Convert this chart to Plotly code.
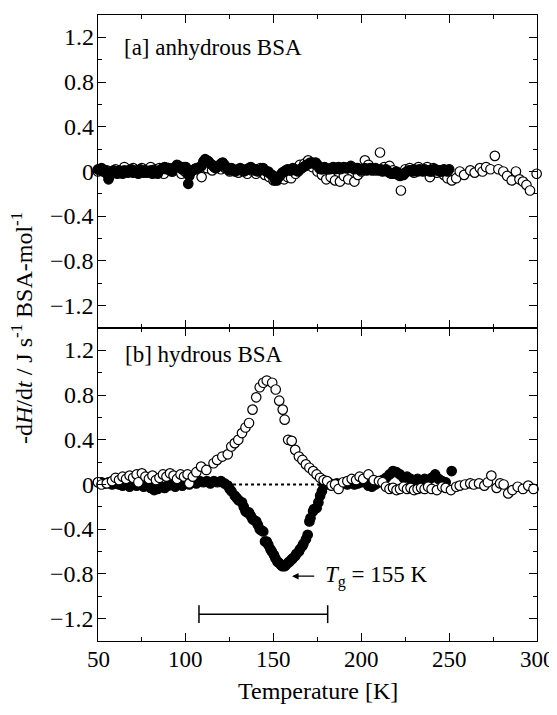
import plotly.graph_objects as go
from plotly.subplots import make_subplots

# ---------------- data ----------------
# [a] anhydrous BSA: open circles
anhydrous_open = [(50,0.0),(52.5,0.02),(55,0.01),(57.5,-0.01),(60,0.02),(62.5,0.0),(65,0.04),(67.5,0.01),(70,0.03),(72.5,-0.01),(75,0.03),(77.5,0.01),(80,0.04),(82.5,0.02),(85,0.03),(87.5,-0.02),(90,0.03),(92.5,0.0),(95,0.02),(97.5,-0.02),(99.5,0.0),(102.5,-0.01),(105,0.02),(109,-0.05),(112,0.03),(115,0.01),(117.5,0.04),(120,0.02),(122.5,0.03),(125,0.0),(127.5,0.01),(130,-0.01),(132.5,0.02),(135,-0.02),(137.5,0.01),(140,-0.02),(142.5,0.03),(145,-0.03),(147.5,-0.05),(150,-0.08),(152,-0.08),(154,-0.06),(156,-0.07),(158,-0.05),(160,-0.06),(162.5,-0.02),(165,0.06),(167.5,0.07),(169.7,0.10),(172,0.04),(175,0.0),(177.5,-0.03),(180,-0.07),(182.5,-0.05),(185,-0.08),(187.8,-0.09),(190,-0.04),(192.5,-0.07),(196,-0.09),(198,-0.03),(200,0.0),(202,0.10),(204,0.06),(206,0.03),(208,0.01),(210.6,0.17),(213,0.04),(216,0.05),(218,0.01),(220,-0.01),(222.5,-0.17),(225,0.02),(227.5,0.03),(230,-0.01),(232.5,0.04),(235,0.02),(237.5,0.04),(239,-0.05),(241,0.03),(243,-0.01),(245,0.01),(247,-0.03),(249,-0.06),(251.5,-0.08),(254,-0.06),(256,0.0),(258.5,-0.03),(262,0.01),(264.5,-0.01),(267.5,0.03),(269,0.0),(271,0.04),(273.5,0.02),(276,0.14),(278,0.02),(280.8,0.0),(283,-0.04),(285.6,-0.08),(288,0.0),(290,-0.07),(292,-0.09),(294,-0.12),(296,-0.17),(299.8,-0.02)]

# [a] anhydrous BSA: filled circles
anhydrous_filled = [(50,0.02),(51,0.01),(52,0.03),(53,0.0),(54,0.01),(55,-0.02),(56,-0.07),(57,-0.03),(58,-0.01),(59,0.01),(60,0.0),(61,-0.02),(62,0.01),(63,0.0),(64,-0.02),(65,0.01),(66,0.0),(67,-0.01),(68,0.01),(69,0.02),(70,-0.01),(71,0.0),(72,0.01),(73,-0.02),(74,0.02),(75,0.0),(76,-0.01),(77,0.01),(78,-0.01),(79,0.0),(80,0.01),(81,-0.02),(82,0.01),(83,0.0),(84,-0.02),(85,0.01),(86,0.02),(87,0.03),(88,0.04),(89,0.02),(90,0.03),(91,0.01),(92,0.0),(93,0.03),(94,0.04),(95,0.06),(96,0.05),(97,0.03),(98,0.02),(99,0.04),(100,0.04),(101,-0.02),(101.4,-0.11),(102,-0.04),(103,0.0),(104,0.01),(105,0.02),(106,0.03),(107,0.03),(108,0.04),(109,0.05),(110,0.09),(111,0.11),(112,0.10),(113,0.09),(114,0.07),(115,0.06),(116,0.04),(117,0.03),(118,0.04),(119,0.05),(120,0.07),(121,0.08),(122,0.06),(123,0.04),(124,0.02),(125,0.01),(126,0.03),(127,0.02),(128,0.0),(129,0.01),(130,0.02),(131,0.03),(132,0.01),(133,0.0),(134,0.01),(135,0.02),(136,0.03),(137,0.04),(138,0.02),(139,0.01),(140,0.02),(141,0.0),(142,0.01),(143,0.02),(144,0.03),(145,0.01),(146,0.0),(147,0.0),(148,-0.02),(149,-0.03),(150,-0.05),(151,-0.08),(152,-0.07),(153,-0.05),(154,-0.03),(155,-0.01),(156,0.0),(157,0.01),(158,0.02),(159,0.01),(160,0.01),(161,0.03),(162,0.02),(163,0.01),(164,0.0),(165,0.02),(166,0.03),(167,0.04),(168,0.05),(169,0.06),(170,0.07),(171,0.08),(172,0.08),(173,0.07),(174,0.08),(175,0.06),(176,0.03),(177,0.02),(178,0.02),(179,0.04),(180,0.03),(181,0.02),(182,0.02),(183,0.03),(184,0.04),(185,0.02),(186,0.03),(187,0.04),(188,0.02),(189,0.03),(190,0.04),(191,0.03),(192,0.03),(193,0.04),(194,0.05),(195,0.03),(196,0.02),(197,0.03),(198,0.03),(199,0.02),(200,0.01),(201,0.02),(202,0.03),(203,0.01),(204,0.02),(205,0.03),(206,0.01),(207,0.02),(208,0.03),(209,0.02),(210,0.01),(211,0.02),(212,0.0),(213,0.01),(214,0.02),(215,0.0),(216,-0.01),(217,-0.02),(218,-0.02),(219,-0.01),(220,0.0),(221,-0.03),(222,-0.04),(223,-0.03),(224,-0.03),(225,-0.01),(226,0.0),(227,0.01),(228,0.01),(229,0.0),(230,0.02),(231,0.01),(232,0.0),(233,0.02),(234,0.01),(235,0.0),(236,0.02),(237,0.01),(238,0.01),(239,0.0),(240,0.0),(241,0.02),(242,0.02),(243,0.01),(244,0.01),(245,0.0),(246,0.0),(247,0.02),(248,0.01),(249,0.0),(250,0.02)]

# [b] hydrous BSA: open circles
hydrous_open = [(50,0.02),(52,0.0),(55,0.01),(58,0.03),(60,0.06),(62,0.04),(64,0.07),(66,0.05),(68,0.08),(70,0.06),(72,0.09),(73,0.02),(75,0.10),(77,0.07),(79,0.05),(81,0.08),(83,0.04),(85,0.06),(87,0.09),(89,0.07),(91,0.10),(93,0.08),(95,0.05),(97,0.09),(99,0.07),(101,0.09),(102,0.01),(104,0.07),(106,0.11),(108.7,0.16),(111.7,0.13),(115.8,0.19),(117.8,0.22),(120.8,0.25),(123.9,0.27),(125.9,0.34),(127.9,0.37),(129.9,0.40),(132.0,0.46),(134.0,0.51),(136.0,0.55),(138.0,0.67),(140.1,0.78),(142.1,0.87),(144.1,0.91),(146.1,0.93),(149.2,0.91),(151.2,0.85),(153.2,0.75),(155.2,0.67),(156.3,0.58),(158.3,0.40),(160.3,0.39),(162.3,0.31),(164.4,0.25),(166.4,0.22),(168.4,0.18),(170.4,0.15),(172.5,0.12),(174.5,0.09),(176.5,0.06),(178.5,0.04),(180.5,0.03),(183,-0.01),(185,0.0),(187,-0.04),(189.6,0.02),(192,0.03),(194.5,0.05),(197,0.04),(199,0.07),(201,0.05),(204,0.09),(207,0.04),(210,0.03),(212,0.02),(214,-0.02),(216,-0.04),(218,-0.03),(220,-0.05),(222,-0.04),(224,-0.02),(226,-0.04),(228,-0.03),(230,-0.05),(232,-0.04),(234,-0.03),(236,-0.04),(238,-0.02),(240,-0.04),(243,-0.05),(246,-0.02),(248,-0.03),(251,-0.05),(254,-0.02),(256,-0.01),(259,0.0),(262,0.01),(264,0.0),(267,0.01),(270,-0.01),(272,0.02),(274,0.08),(277,-0.03),(279,0.01),(281,0.0),(283.6,-0.08),(286,-0.05),(289,-0.02),(292,-0.04),(295,-0.01),(298,-0.04)]

# [b] hydrous BSA: filled circles
hydrous_filled = [(50,0.02),(52,0.02),(54,0.01),(56,0.02),(58,0.0),(60,0.01),(62,0.0),(64,-0.01),(66,0.0),(68,-0.02),(70,0.0),(72,-0.01),(74,0.0),(76,-0.02),(78,-0.01),(80,-0.03),(82,-0.05),(84,-0.04),(86,-0.02),(88,-0.03),(90,-0.01),(92,0.0),(94,-0.02),(96,0.0),(98,-0.01),(100,0.01),(102,0.0),(104,0.02),(106,0.01),(108,0.03),(110,0.02),(112,0.03),(114,0.01),(116,0.03),(118,0.02),(120,0.03),(122,0.01),(123.9,-0.01),(125,-0.04),(126,-0.06),(127.9,-0.10),(129,-0.12),(130,-0.14),(132,-0.16),(133,-0.20),(134,-0.24),(135,-0.25),(136,-0.25),(137,-0.28),(138,-0.31),(139,-0.32),(140.1,-0.33),(141,-0.36),(142.1,-0.40),(143,-0.41),(144.1,-0.42),(145.1,-0.51),(146.1,-0.51),(147,-0.54),(148.2,-0.58),(149,-0.60),(150.2,-0.63),(151,-0.66),(152.2,-0.69),(153,-0.70),(154.2,-0.72),(155,-0.73),(156.3,-0.73),(157,-0.72),(158.3,-0.70),(159,-0.69),(160.3,-0.67),(161,-0.66),(162.3,-0.64),(163,-0.62),(164.4,-0.60),(165,-0.58),(166.4,-0.55),(167,-0.53),(168.4,-0.49),(169.4,-0.45),(170.4,-0.33),(171,-0.30),(172.5,-0.24),(173,-0.22),(174.5,-0.21),(175.5,-0.16),(176.5,-0.10),(177.5,-0.06),(178.5,-0.01),(180,0.0),(182,0.01),(184,0.0),(186,0.01),(188,0.0),(190,0.01),(192,0.0),(194,0.02),(196,0.0),(198,0.01),(200,0.02),(202,0.02),(204,-0.01),(206,-0.02),(208,0.0),(210,0.02),(212,0.04),(214,0.06),(216,0.09),(218,0.12),(220,0.11),(222,0.09),(224,0.06),(226,0.07),(228,0.05),(230,0.04),(232,0.05),(234,0.03),(236,0.05),(238,0.04),(240,0.06),(242,0.09),(244,0.05),(246,0.03),(248,0.02),(251.4,0.12)]

y_tickvals = [-1.2, -0.8, -0.4, 0, 0.4, 0.8, 1.2]
y_ticklabels = ["\u22121.2", "\u22120.8", "\u22120.4", "0", "0.4", "0.8", "1.2"]
x_tickvals = [50, 100, 150, 200, 250, 300]
x_ticklabels = ["50", "100", "150", "200", "250", "300"]

baseline_range = (126.9, 177.5)       # dotted zero line under the hydrous peaks
tg_range = (107.5, 180.8, -1.16)      # horizontal range bar (x0, x1, y)
tg_point = (160.5, -0.82)             # arrow tip
tg_arrow_tail = 174.0
tg_label = "<i>T</i><sub>g</sub> = 155 K"

# ---------------- figure ----------------
# The page body keeps the browser's default 8 px margin, so the figure is made
# 8 px smaller in each direction to keep everything inside the 557x715 window.
FONT = "Liberation Serif, Times New Roman, serif"
fig = make_subplots(rows=2, cols=1, shared_xaxes=True, vertical_spacing=0)

def xy(pairs):
    return [p[0] for p in pairs], [p[1] for p in pairs]

open_marker = dict(symbol="circle", size=9.5, color="white", line=dict(color="black", width=1.2))
fill_marker = dict(symbol="circle", size=9.5, color="black", line=dict(color="black", width=1.2))

def add_series(pairs, marker, row):
    x, y = xy(pairs)
    fig.add_trace(go.Scatter(x=x, y=y, mode="markers", marker=marker, cliponaxis=False,
                             showlegend=False), row=row, col=1)

add_series(anhydrous_open, open_marker, 1)
add_series(anhydrous_filled, fill_marker, 1)
add_series(hydrous_filled, fill_marker, 2)
add_series(hydrous_open, open_marker, 2)

axis_common = dict(showline=True, linecolor="black", linewidth=1, mirror="allticks",
                   ticks="inside", ticklen=8, tickcolor="black", tickwidth=1,
                   showgrid=False, zeroline=False, automargin=False, showticklabels=False)

for r in (1, 2):
    fig.update_xaxes(range=[50, 300], tickvals=x_tickvals,
                     minor=dict(ticks="inside", dtick=25, tick0=50, ticklen=4, tickcolor="black", showgrid=False),
                     row=r, col=1, **axis_common)
    fig.update_yaxes(range=[-1.4, 1.4], tickvals=y_tickvals,
                     minor=dict(ticks="inside", dtick=0.2, tick0=0, ticklen=4, tickcolor="black", showgrid=False),
                     row=r, col=1, **axis_common)

# tick labels placed like the reference (just outside the frame)
tick_font = dict(family=FONT, size=24, color="black")
for yref in ("y", "y2"):
    for v, t in zip(y_tickvals, y_ticklabels):
        fig.add_annotation(x=0, y=v, xref="paper", yref=yref, text=t, showarrow=False,
                           xanchor="right", yanchor="middle", xshift=-2, font=tick_font)
for v, t in zip(x_tickvals, x_ticklabels):
    fig.add_annotation(x=v, y=0, xref="x2", yref="paper", text=t, showarrow=False,
                       xanchor="center", yanchor="middle", yshift=-18,
                       font=dict(family=FONT, size=23, color="black"))

# dotted baseline
fig.add_shape(type="line", x0=baseline_range[0], x1=baseline_range[1], y0=0, y1=0,
              xref="x2", yref="y2", line=dict(color="black", width=2, dash="dot"))
# range bar with end caps
fig.add_shape(type="line", x0=tg_range[0], x1=tg_range[1], y0=tg_range[2], y1=tg_range[2],
              xref="x2", yref="y2", line=dict(color="black", width=1.5))
for xe in tg_range[:2]:
    fig.add_shape(type="line", x0=xe, x1=xe, y0=tg_range[2] - 0.08, y1=tg_range[2] + 0.08,
                  xref="x2", yref="y2", line=dict(color="black", width=1.5))

ann_font = dict(family=FONT, size=23, color="black")
# Tg arrow
fig.add_annotation(x=tg_point[0], y=tg_point[1], ax=tg_arrow_tail, ay=tg_point[1],
                   xref="x2", yref="y2", axref="x2", ayref="y2", text="",
                   showarrow=True, arrowhead=2, arrowsize=1, arrowwidth=1.3, arrowcolor="black")
fig.add_annotation(x=tg_arrow_tail + 4, y=tg_point[1], xref="x2", yref="y2", text=tg_label,
                   showarrow=False, xanchor="left", yanchor="middle", font=ann_font)
fig.add_annotation(x=63.7, y=1.11, xref="x", yref="y", text="[a] anhydrous BSA",
                   showarrow=False, xanchor="left", yanchor="middle", font=ann_font)
fig.add_annotation(x=64.2, y=1.16, xref="x2", yref="y2", text="[b] hydrous BSA",
                   showarrow=False, xanchor="left", yanchor="middle", font=ann_font)

fig.add_annotation(x=0, y=0.5, xref="paper", yref="paper", xshift=-76, textangle=-90,
                   text="-d<i>H</i>/d<i>t</i> / J s<sup>-1</sup> BSA-mol<sup>-1</sup>",
                   showarrow=False, xanchor="center", yanchor="middle",
                   font=dict(family=FONT, size=24, color="black"))
fig.add_annotation(x=0.5, y=0, xref="paper", yref="paper", yshift=-50,
                   text="Temperature [K]", showarrow=False, xanchor="center", yanchor="middle",
                   font=dict(family=FONT, size=24, color="black"))

fig.update_layout(width=549, height=707, margin=dict(l=90, r=20, t=7, b=74),
                  paper_bgcolor="white", plot_bgcolor="white",
                  font=dict(family=FONT, color="black"))

fig.write_html("out.html")
